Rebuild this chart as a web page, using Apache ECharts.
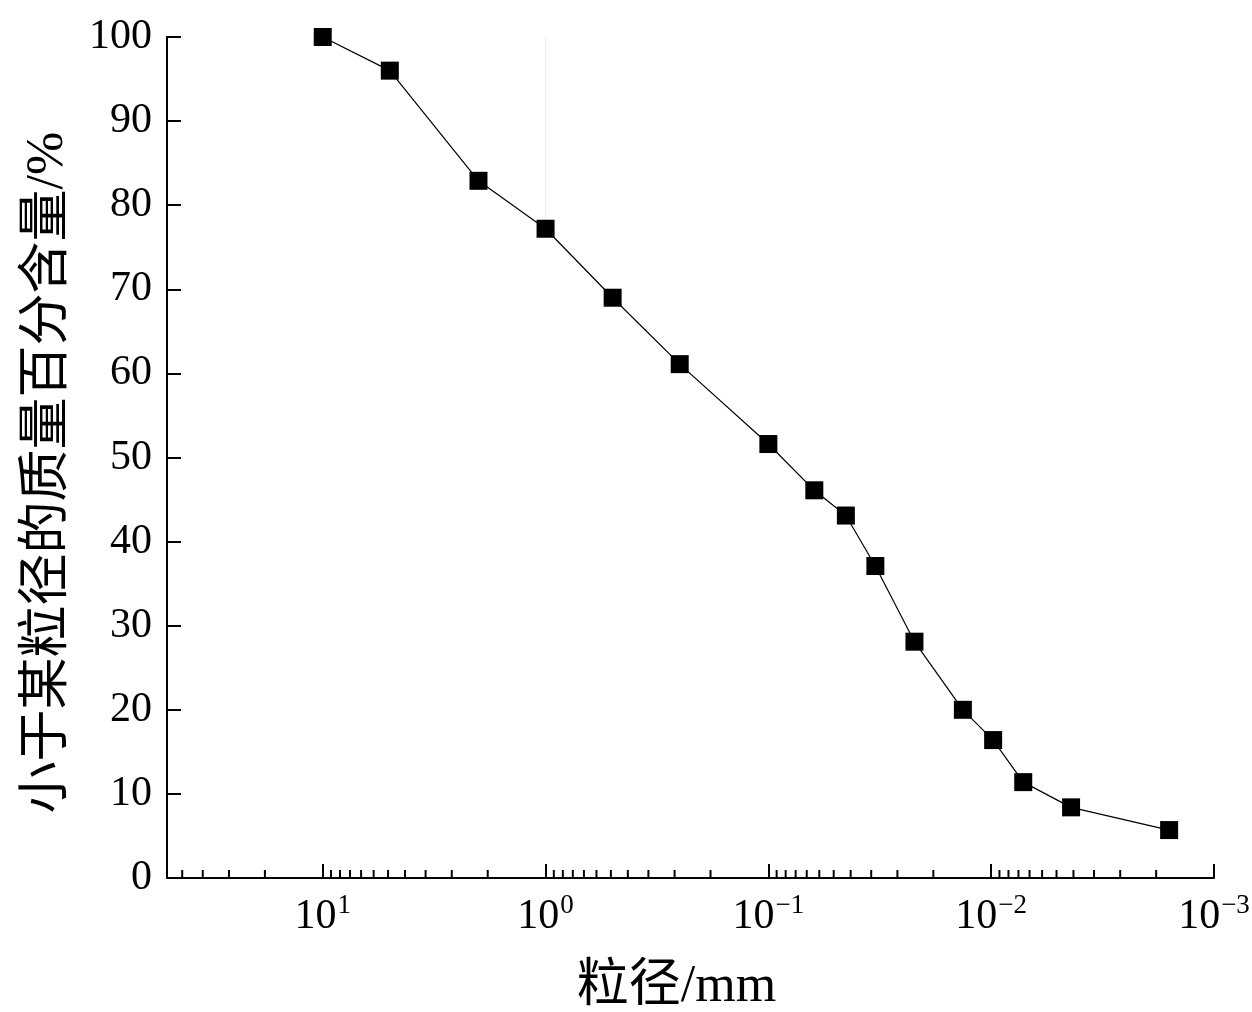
<!DOCTYPE html>
<html>
<head>
<meta charset="utf-8">
<script src="https://cdn.jsdelivr.net/npm/echarts@6/dist/echarts.min.js"></script>
<style>
html,body{margin:0;padding:0;background:#fff;overflow:hidden;}
#chart{width:1252px;height:1012px;}
</style>
</head>
<body>
<div id="chart"></div>
<script>
// Particle size (mm) and cumulative passing (%)
var particleSize = [10, 5, 2, 1, 0.5, 0.25, 0.1, 0.0622, 0.0449, 0.0331, 0.0221, 0.0134, 0.0098, 0.00718, 0.00438, 0.00159];
var percentFiner = [100, 96.0, 82.9, 77.2, 69.0, 61.1, 51.6, 46.1, 43.1, 37.1, 28.1, 20.0, 16.4, 11.4, 8.4, 5.7];
// Minor tick multipliers within each decade (as in the original figure) and decades
var minorMultipliers = [1.818, 2.636, 3.455, 4.273, 5.091, 5.909, 6.727, 7.545, 8.364, 9.182];
var decades = [0.001, 0.01, 0.1, 1, 10];
var xMin = 0.001, xMax = 50;

var minorTicks = [];
decades.forEach(function (d) {
  minorMultipliers.forEach(function (m) {
    var v = d * m;
    if (v < xMax) minorTicks.push([v, 0]);
  });
});

var lineData = particleSize.map(function (x, i) { return [x, percentFiner[i]]; });

var serif = "'Liberation Serif', 'Times New Roman', 'Noto Sans CJK SC', serif";

var chart = echarts.init(document.getElementById('chart'), null, {renderer: 'canvas'});
chart.setOption({
  backgroundColor: '#fff',
  animation: false,
  grid: {left: 167, right: 38, top: 37, bottom: 134, containLabel: false, outerBoundsMode: 'none'},
  xAxis: {
    type: 'log',
    logBase: 10,
    min: xMin,
    max: xMax,
    inverse: true,
    splitLine: {show: false},
    axisLine: {show: true, lineStyle: {color: '#000', width: 2}},
    axisTick: {show: true, inside: true, length: 14, lineStyle: {color: '#000', width: 2}},
    axisLabel: {
      margin: 14,
      formatter: function (v) {
        var e = Math.round(Math.log10(v));
        if (Math.abs(Math.log10(v) - e) > 1e-6) return '';
        var s = e < 0 ? '\u2212' + (-e) : String(e);
        return '{b|10}{s|' + s + '}';
      },
      rich: {
        b: {fontSize: 42, fontFamily: serif, color: '#000', lineHeight: 46, verticalAlign: 'bottom'},
        s: {fontSize: 27, fontFamily: serif, color: '#000', lineHeight: 46, verticalAlign: 'top', padding: [0, 0, 0, 1]}
      }
    },
    name: '粒径/mm',
    nameLocation: 'middle',
    nameGap: 83,
    nameTextStyle: {fontSize: 52, fontFamily: serif, color: '#000', padding: [0, 28, 0, 0]}
  },
  yAxis: {
    type: 'value',
    min: 0,
    max: 100,
    interval: 10,
    splitLine: {show: false},
    axisLine: {show: true, lineStyle: {color: '#000', width: 2}},
    axisTick: {show: true, inside: true, length: 14, lineStyle: {color: '#000', width: 2}},
    axisLabel: {fontSize: 42, fontFamily: serif, color: '#000', margin: 15},
    name: '小于某粒径的质量百分含量/%',
    nameLocation: 'middle',
    nameGap: 93,
    nameTextStyle: {fontSize: 52, fontFamily: serif, color: '#000', padding: [0, 30, 0, 0]}
  },
  series: [
    {
      type: 'line',
      data: lineData,
      symbol: 'rect',
      symbolSize: 18,
      lineStyle: {color: '#000', width: 1.2},
      itemStyle: {color: '#000'},
      z: 5,
      markLine: {
        silent: true,
        symbol: 'none',
        label: {show: false},
        lineStyle: {color: '#eeeeee', width: 1, type: 'solid'},
        data: [[{coord: [1, 100]}, {coord: [1, 77.2]}]]
      }
    },
    {
      type: 'custom',
      data: minorTicks,
      clip: false,
      silent: true,
      renderItem: function (params, api) {
        var p = api.coord([api.value(0), 0]);
        return {
          type: 'line',
          shape: {x1: p[0], y1: p[1], x2: p[0], y2: p[1] - 8},
          style: {stroke: '#000', lineWidth: 2}
        };
      },
      z: 3
    }
  ]
});
</script>
</body>
</html>
